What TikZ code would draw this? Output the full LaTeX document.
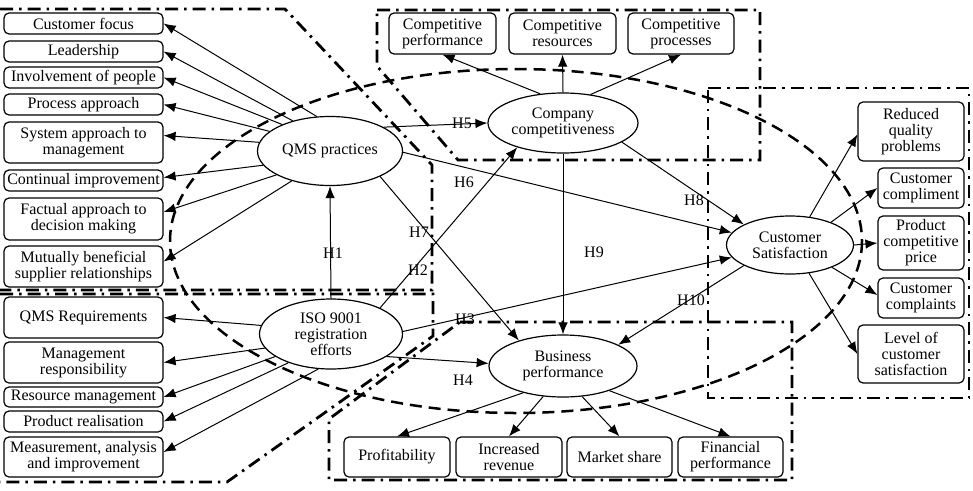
\documentclass[tikz,border=0pt]{standalone}
\usepackage{fontspec}
\setmainfont{Liberation Serif}
\usetikzlibrary{shapes.geometric,arrows.meta}
\begin{document}
\begin{tikzpicture}[x=1pt,y=-1pt,
 box/.style={draw, rounded corners=5pt, line width=1.2pt, fill=white, align=center, inner sep=0pt, font=\fontsize{16}{16}\selectfont},
 ell/.style={draw, ellipse, line width=1.2pt, fill=white, align=center, inner sep=0pt, font=\fontsize{16}{16}\selectfont},
 arr/.style={-{Latex[length=12pt,width=9.5pt]}, line width=1pt},
 region/.style={line width=2.8pt, dash pattern=on 13pt off 6pt on 2.5pt off 6pt},
 bigdash/.style={line width=2.5pt, dash pattern=on 12pt off 7pt},
 hlab/.style={font=\fontsize{16}{16}\selectfont, inner sep=0pt}
]
\useasboundingbox (0,0) rectangle (973,490);

% regions
\draw[region] (0,9) -- (285,9) -- (432,165) -- (432,290) -- (0,290);
\draw[region] (0,294) -- (433,294) -- (433,336) -- (227,482) -- (0,482);
\draw[region] (377,10) -- (760,10) -- (760,160) -- (458,160) -- (377,66) -- cycle;
\draw[region] (708,88) -- (969,88) -- (969,398) -- (708,398) -- cycle;
\draw[region] (460,322) -- (792,322) -- (792,480) -- (329,480) -- (329,419) -- cycle;
\draw[bigdash] (516,241) ellipse [x radius=346, y radius=172];

% QMS boxes
\node[box, minimum width=159, minimum height=21] (cf) at (83.5,23.5) {Customer focus};
\node[box, minimum width=159, minimum height=21] (lead) at (83.5,51.5) {Leadership};
\node[box, minimum width=159, minimum height=21] (inv) at (83.5,77.5) {Involvement of people};
\node[box, minimum width=159, minimum height=21] (proc) at (83.5,104.5) {Process approach};
\node[box, minimum width=159, minimum height=41] (sys) at (83.5,142.5) {System approach to\\management};
\node[box, minimum width=159, minimum height=21] (cont) at (83.5,180.5) {Continual improvement};
\node[box, minimum width=159, minimum height=42] (fact) at (83.5,219) {Factual approach to\\decision making};
\node[box, minimum width=159, minimum height=41] (mut) at (83.5,266.5) {Mutually beneficial\\supplier relationships};

% ISO boxes
\node[box, minimum width=159, minimum height=41] (qreq) at (83.5,317.5) {QMS Requirements};
\node[box, minimum width=159, minimum height=41] (mresp) at (83.5,362.5) {Management\\responsibility};
\node[box, minimum width=159, minimum height=20] (res) at (83.5,397) {Resource management};
\node[box, minimum width=159, minimum height=21] (prod) at (83.5,421.5) {Product realisation};
\node[box, minimum width=159, minimum height=40] (meas) at (83.5,457) {Measurement, analysis\\and improvement};

% top boxes
\node[box, minimum width=107, minimum height=41] (cp) at (442.5,33.5) {Competitive\\performance};
\node[box, minimum width=107, minimum height=41] (cr) at (562.5,33.5) {Competitive\\resources};
\node[box, minimum width=106, minimum height=41] (cpr) at (681,33.5) {Competitive\\processes};

% right boxes
\node[box, minimum width=106, minimum height=59] (rqp) at (911,131.5) {Reduced\\quality\\problems};
\node[box, minimum width=86, minimum height=40] (ccomp) at (921,188) {Customer\\compliment};
\node[box, minimum width=86, minimum height=54] (pcp) at (921,243) {Product\\competitive\\price};
\node[box, minimum width=86, minimum height=40] (ccpl) at (921,298) {Customer\\complaints};
\node[box, minimum width=106, minimum height=58] (lcs) at (911,354) {Level of\\customer\\satisfaction};

% bottom boxes
\node[box, minimum width=106, minimum height=40] (prof) at (397,457) {Profitability};
\node[box, minimum width=106, minimum height=40] (incr) at (509,457) {Increased\\revenue};
\node[box, minimum width=105, minimum height=40] (mkt) at (619.5,457) {Market share};
\node[box, minimum width=105, minimum height=40] (fin) at (730.5,457) {Financial\\performance};

% ellipses
\node[ell, minimum width=145, minimum height=69] (qms) at (330,151) {QMS practices};
\node[ell, minimum width=143, minimum height=70] (iso) at (331,334) {ISO 9001\\registration\\efforts};
\node[ell, minimum width=150, minimum height=60] (cc) at (563,123) {Company\\competitiveness};
\node[ell, minimum width=148, minimum height=62] (bp) at (563,366) {Business\\performance};
\node[ell, minimum width=127, minimum height=58] (cs) at (790,245) {Customer\\Satisfaction};

% QMS arrows
\draw[arr] (qms.111) -- (cf.east);
\draw[arr] (qms.141) -- (lead.east);
\draw[arr] (qms.151) -- (inv.east);
\draw[arr] (qms.162) -- (proc.east);
\draw[arr] (qms.173) -- ([yshift=7]sys.east);
\draw[arr] (qms.192) -- ([yshift=3]cont.east);
\draw[arr] (qms.204) -- ([yshift=7]fact.east);
\draw[arr] (qms.218) -- ([yshift=5]mut.east);

% ISO arrows
\draw[arr] (iso.173) -- (qreq.east);
\draw[arr] (iso.192) -- (mresp.east);
\draw[arr] (iso.202) -- (res.east);
\draw[arr] (iso.214) -- (prod.east);
\draw[arr] (iso.250) -- ([yshift=5]meas.east);

% competitiveness arrows
\draw[arr] (cc.128) -- (cp.south);
\draw[arr] (cc.north) -- (cr.south);
\draw[arr] (cc.46) -- (cpr.south);

% customer satisfaction arrows
\draw[arr] (cs.55) -- ([yshift=-3]rqp.west);
\draw[arr] (cs.29) -- (ccomp.west);
\draw[arr] (cs.east) -- (pcp.west);
\draw[arr] (cs.332) -- ([yshift=3]ccpl.west);
\draw[arr] (cs.304) -- (lcs.west);

% business arrows
\draw[arr] (bp.214) -- (prof.north);
\draw[arr] (bp.237) -- (incr.north);
\draw[arr] (bp.302) -- (mkt.north);
\draw[arr] (bp.332) -- (fin.north);

% hypotheses
\draw[arr] (iso.north) -- (qms.south);
\draw[arr] (iso.28) -- (cc.208);
\draw[arr] (iso.2) -- (cs.192);
\draw[arr] (iso.338) -- (bp.178);
\draw[arr] (qms.24) -- (cc.180);
\draw[arr] (qms.359) -- (cs.168);
\draw[arr] (qms.333) -- (bp.150);
\draw[arr] (cc.342) -- (cs.156);
\draw[arr] (cc.south) -- (bp.north);
\draw[arr] (cs.204) -- (bp.21);

\node[hlab] (h1) at (333,253) {H1};
\node[hlab] (h2) at (418,270) {H2};
\node[hlab] (h3) at (465,319) {H3};
\node[hlab] (h4) at (463,380) {H4};
\node[hlab] (h5) at (462,123) {H5};
\node[hlab] (h6) at (464,182) {H6};
\node[hlab] (h7) at (419,232) {H7};
\node[hlab] (h8) at (694,200) {H8};
\node[hlab] (h9) at (594,252) {H9};
\node[hlab] (h10) at (691,300) {H10};
\end{tikzpicture}
\end{document}
